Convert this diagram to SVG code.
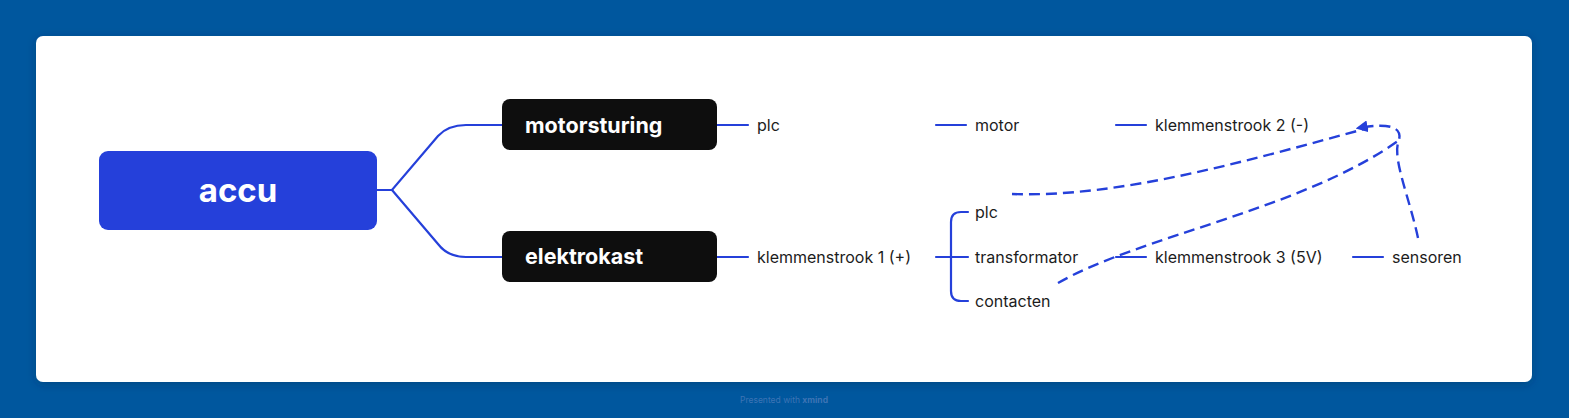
<svg xmlns="http://www.w3.org/2000/svg" width="1569" height="418" viewBox="0 0 1569 418">
<defs>
<style>
.ln{fill:none;stroke:#2540da;stroke-width:2.2;stroke-linecap:round}
.rel{fill:none;stroke:#2540da;stroke-width:2.4;stroke-dasharray:11 6}
.t{font-family:Inter,"Liberation Sans",sans-serif;font-size:16px;fill:#1c1c1c}
.tb{font-family:Inter,"Liberation Sans",sans-serif;font-weight:700;fill:#fff}
</style>
<marker id="ah" viewBox="0 0 10 10" refX="8" refY="5" markerWidth="5" markerHeight="5" orient="auto" markerUnits="strokeWidth">
<path d="M0,0 L10,5 L0,10 z" fill="#2540da"/>
</marker>
<filter id="sh" x="-5%" y="-10%" width="110%" height="120%">
<feDropShadow dx="0" dy="2" stdDeviation="4" flood-color="#002a55" flood-opacity="0.35"/>
</filter>
</defs>
<rect x="0" y="0" width="1569" height="418" fill="#00579e"/>
<rect x="36" y="36" width="1496" height="346" rx="7" fill="#ffffff" filter="url(#sh)"/>
<g id="connectors">
<path class="ln" d="M377,190 H392 L438,136 Q448,125 466,125 H502"/>
<path class="ln" d="M392,190 L438,244 Q448,257 466,257 H502"/>
<path class="ln" d="M717,125 H748"/>
<path class="ln" d="M717,257 H748"/>
<path class="ln" d="M936,125 H966"/>
<path class="ln" d="M1116,125 H1146"/>
<path class="ln" d="M936,257 H968"/>
<path class="ln" d="M968,212 H961 Q951,212 951,222 V291 Q951,301 961,301 H968"/>
<path class="ln" d="M1116,257 H1146"/>
<path class="ln" d="M1353,257 H1383"/>
<path class="rel" d="M1012,194 C1120,198 1250,160 1368,128"/>
<path class="rel" d="M1058,283 C1140,236 1300,210 1398,141"/>
<path class="rel" d="M1418,238 C1410,200 1393,160 1398,143 C1404,128 1392,122 1358,128" marker-end="url(#ah)"/>
</g>
<g id="node-accu">
<rect x="99" y="151" width="278" height="79" rx="9" fill="#2540da"/>
<text class="tb" x="238" y="202" font-size="33" text-anchor="middle">accu</text>
</g>
<g id="node-motorsturing">
<rect x="502" y="99" width="215" height="51" rx="8" fill="#0e0e0e"/>
<text class="tb" x="525" y="133" font-size="21.5">motorsturing</text>
</g>
<g id="node-elektrokast">
<rect x="502" y="231" width="215" height="51" rx="8" fill="#0e0e0e"/>
<text class="tb" x="525" y="264" font-size="21.5">elektrokast</text>
</g>
<g id="node-plc1"><text class="t" x="757" y="131">plc</text></g>
<g id="node-motor"><text class="t" x="975" y="131">motor</text></g>
<g id="node-klem2"><text class="t" x="1155" y="131">klemmenstrook 2 (-)</text></g>
<g id="node-klem1"><text class="t" x="757" y="263">klemmenstrook 1 (+)</text></g>
<g id="node-plc2"><text class="t" x="975" y="218">plc</text></g>
<g id="node-transformator"><text class="t" x="975" y="263">transformator</text></g>
<g id="node-contacten"><text class="t" x="975" y="307">contacten</text></g>
<g id="node-klem3"><text class="t" x="1155" y="263">klemmenstrook 3 (5V)</text></g>
<g id="node-sensoren"><text class="t" x="1392" y="263">sensoren</text></g>
<text x="784" y="403" text-anchor="middle" font-family="Inter,'Liberation Sans',sans-serif" font-size="8.5" fill="#3d74b5">Presented with <tspan font-weight="700">xmind</tspan></text>
</svg>
